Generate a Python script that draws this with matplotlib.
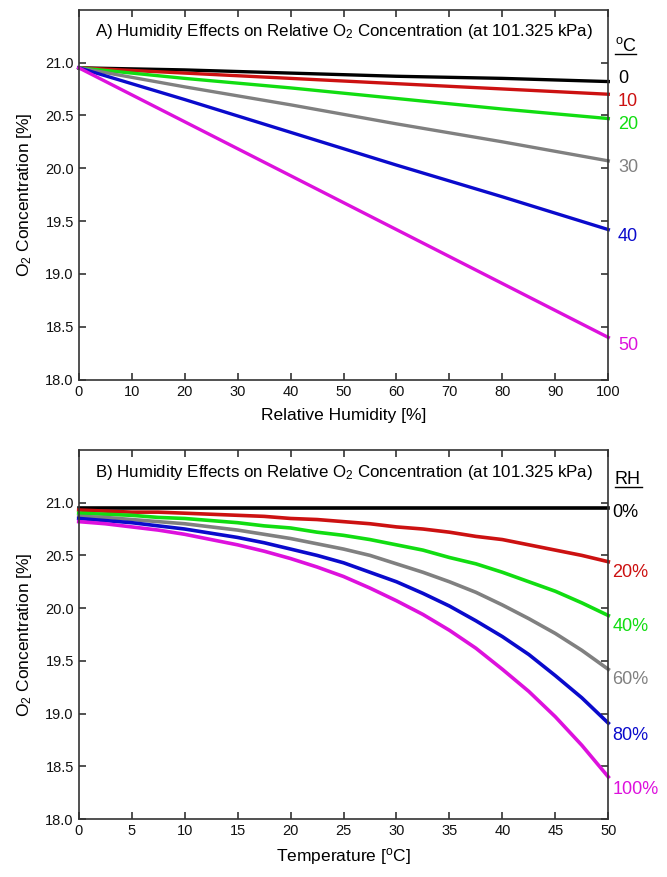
"""O2 concentration vs humidity and temperature (two panels)."""
import matplotlib
matplotlib.use("Agg")
import matplotlib.pyplot as plt

plt.rcParams["font.family"] = ["Liberation Sans", "DejaVu Sans"]
plt.rcParams["mathtext.fontset"] = "custom"
plt.rcParams["mathtext.rm"] = "Liberation Sans"
plt.rcParams["mathtext.it"] = "Liberation Sans:italic"
plt.rcParams["mathtext.bf"] = "Liberation Sans:bold"

# temperatures (panel B x axis) and relative humidities (panel A x axis)
temps = [0, 2.5, 5, 7.5, 10, 12.5, 15, 17.5, 20, 22.5, 25,
         27.5, 30, 32.5, 35, 37.5, 40, 42.5, 45, 47.5, 50]
rh_levels = [0, 20, 40, 60, 80, 100]

# O2 concentration [%] at each temperature, one list per RH level
o2_rh0 = [20.95] * 21
o2_rh20 = [20.93, 20.92, 20.91, 20.91, 20.90, 20.89, 20.88, 20.87, 20.85, 20.84, 20.82,
           20.80, 20.77, 20.75, 20.72, 20.68, 20.65, 20.60, 20.55, 20.50, 20.44]
o2_rh40 = [20.90, 20.89, 20.88, 20.86, 20.85, 20.83, 20.81, 20.78, 20.76, 20.72, 20.69,
           20.65, 20.60, 20.55, 20.48, 20.42, 20.34, 20.25, 20.16, 20.05, 19.93]
o2_rh60 = [20.87, 20.86, 20.84, 20.82, 20.80, 20.77, 20.74, 20.70, 20.66, 20.61, 20.56,
           20.50, 20.42, 20.34, 20.25, 20.15, 20.03, 19.90, 19.76, 19.60, 19.42]
o2_rh80 = [20.85, 20.83, 20.81, 20.78, 20.75, 20.71, 20.67, 20.62, 20.56, 20.50, 20.43,
           20.34, 20.25, 20.14, 20.02, 19.88, 19.73, 19.56, 19.36, 19.15, 18.91]
o2_rh100 = [20.82, 20.80, 20.77, 20.74, 20.70, 20.65, 20.60, 20.54, 20.47, 20.39, 20.30,
            20.19, 20.07, 19.94, 19.79, 19.62, 19.42, 19.21, 18.97, 18.70, 18.40]
o2_by_rh = [o2_rh0, o2_rh20, o2_rh40, o2_rh60, o2_rh80, o2_rh100]

# panel A curves: one per temperature
temp_curves = [0, 10, 20, 30, 40, 50]
temp_labels = ["0", "10", "20", "30", "40", "50"]
rh_labels = ["0%", "20%", "40%", "60%", "80%", "100%"]

colors = ["#000000", "#cc1111", "#11dd11", "#808080", "#0a0acc", "#dd11dd"]
# label nudges (points) relative to line ends
label_dy_a = [2, -5, -4, -5, -5, -6]
label_dy_b = [-3, -8, -8, -7, -9, -9]
TITLE = "Humidity Effects on Relative O$_2$ Concentration (at 101.325 kPa)"


def style_axes(ax):
    ax.set_ylim(18.0, 21.5)
    ax.set_yticks([18.0, 18.5, 19.0, 19.5, 20.0, 20.5, 21.0])
    ax.set_yticklabels(["18.0", "18.5", "19.0", "19.5", "20.0", "20.5", "21.0"])
    ax.tick_params(direction="in", top=True, right=True, length=5,
                   width=1.2, labelsize=10.5, colors="#333333",
                   labelcolor="#111111", labelright=False)
    for sp in ax.spines.values():
        sp.set_color("#333333")
        sp.set_linewidth(1.2)
    ax.set_ylabel("O$_2$ Concentration [%]", fontsize=12.5, labelpad=8)


def underlined_header(ax, text, y, width):
    ax.text(1.012, y, text, transform=ax.transAxes, ha="left",
            va="baseline", fontsize=13)
    ax.plot([1.012, 1.012 + width], [y - 0.009, y - 0.009],
            transform=ax.transAxes, color="black", lw=1.0, clip_on=False)


fig = plt.figure(figsize=(6.67, 8.77), dpi=100)
ax_a = fig.add_axes([0.118, 0.567, 0.794, 0.422])
ax_b = fig.add_axes([0.118, 0.066, 0.794, 0.421])

# panel A: O2 vs relative humidity for each temperature
for k, t in enumerate(temp_curves):
    idx = temps.index(t)
    ys = [series[idx] for series in o2_by_rh]
    ax_a.plot(rh_levels, ys, color=colors[k], lw=2.4, clip_on=False)
    ax_a.annotate(temp_labels[k], xy=(rh_levels[-1], ys[-1]),
                  xytext=(7, label_dy_a[k]), textcoords="offset points",
                  ha="left", va="center", fontsize=13, color=colors[k],
                  annotation_clip=False)
ax_a.set_xlim(0, 100)
ax_a.set_xticks(range(0, 101, 10))
style_axes(ax_a)
ax_a.set_xlabel("Relative Humidity [%]", fontsize=12.5, labelpad=7)
ax_a.text(0.5, 0.94, "A) " + TITLE, transform=ax_a.transAxes,
          ha="center", va="center", fontsize=12.2)
underlined_header(ax_a, "$^{\\mathrm{o}}$C", 0.888, 0.04)

# panel B: O2 vs temperature for each RH level
for k, series in enumerate(o2_by_rh):
    ax_b.plot(temps, series, color=colors[k], lw=2.6, clip_on=False)
    ax_b.annotate(rh_labels[k], xy=(temps[-1], series[-1]),
                  xytext=(3, label_dy_b[k]), textcoords="offset points",
                  ha="left", va="center", fontsize=13, color=colors[k],
                  annotation_clip=False)
ax_b.set_xlim(0, 50)
ax_b.set_xticks(range(0, 51, 5))
style_axes(ax_b)
ax_b.set_xlabel("Temperature [$^{\\mathrm{o}}$C]", fontsize=12.5, labelpad=6)
ax_b.text(0.5, 0.94, "B) " + TITLE, transform=ax_b.transAxes,
          ha="center", va="center", fontsize=12.2)
underlined_header(ax_b, "RH", 0.908, 0.052)

fig.savefig("out.png", dpi=100)
